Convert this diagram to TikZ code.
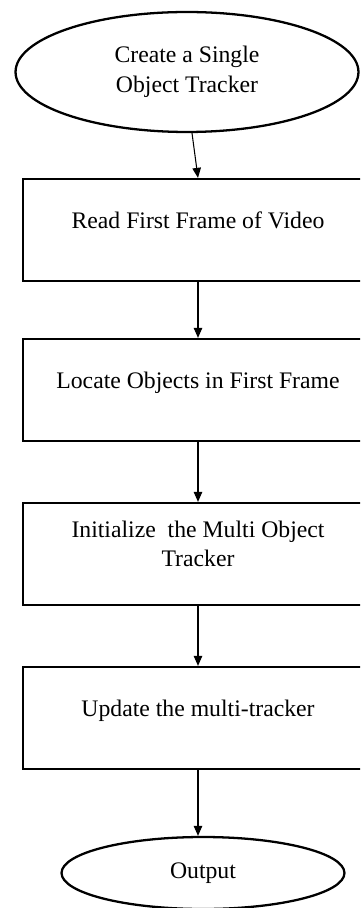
\documentclass[tikz,border=0pt]{standalone}
\usepackage{fontspec}
\setmainfont{Liberation Serif}
\usetikzlibrary{shapes.geometric,arrows.meta,positioning}
\newcommand{\flowfont}{\fontsize{13.5}{16.8}\selectfont}

\begin{document}
\begin{tikzpicture}[x=0.02cm,y=-0.02cm,
    stepbox/.style={draw,line width=1.3pt,minimum width=7cm,minimum height=2.04cm,align=center,text depth=0.4cm,font=\flowfont},
    term/.style={draw,ellipse,line width=1.3pt,inner sep=0pt,align=center,font=\flowfont},
    flow/.style={-{Triangle[width=0.17cm,length=0.2cm]},line width=0.6pt}]
    \clip (0,0) rectangle (360,908);
    \node[term,minimum width=6.86cm,minimum height=2.4cm] (start) at (187,72) {Create a Single\\Object Tracker};
    \node[stepbox] (read) at (198,230) {Read First Frame of Video};
    \node[stepbox] (locate) at (198,390) {Locate Objects in First Frame};
    \node[stepbox] (init) at (198,554) {Initialize\ \ the Multi Object\\Tracker};
    \node[stepbox] (update) at (198,718) {Update the multi-tracker};
    \node[term,minimum width=5.66cm,minimum height=1.44cm] (output) at (203,873) {Output};
    \draw[flow] ([xshift=0.1cm]start.south) -- (read.north);
    \foreach \a/\b in {read/locate,locate/init,init/update}
        \draw[flow] (\a.south) -- (\b.north);
    \draw[flow] (update.south) -- (update.south |- output.north);
\end{tikzpicture}
\end{document}
